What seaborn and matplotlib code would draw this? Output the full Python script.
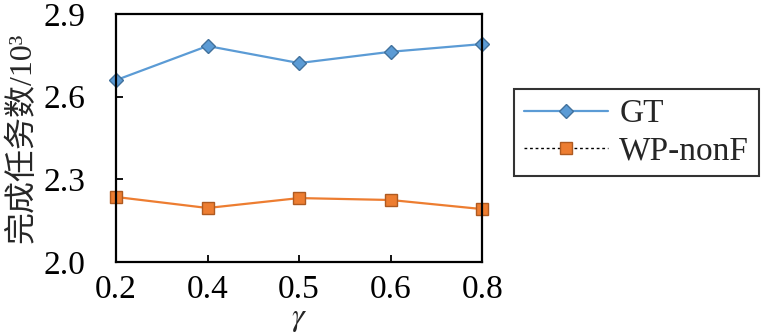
import matplotlib
matplotlib.use("Agg")
import matplotlib.pyplot as plt
from matplotlib.lines import Line2D
import seaborn as sns
import pandas as pd

gamma_labels = ["0.2", "0.4", "0.5", "0.6", "0.8"]
gt_values = [2.660, 2.784, 2.722, 2.763, 2.791]
wp_values = [2.236, 2.196, 2.232, 2.225, 2.192]
series_names = ["GT", "WP-nonF"]

blue = "#5B9BD5"
blue_edge = "#41719C"
orange = "#ED7D31"
orange_edge = "#AE5A21"

sns.set_theme(style="white")
plt.rcParams["font.family"] = ["Liberation Serif", "Noto Sans CJK SC"]
plt.rcParams["mathtext.fontset"] = "stix"

df = pd.DataFrame({
    "gamma": gamma_labels * 2,
    "value": gt_values + wp_values,
    "method": [series_names[0]] * len(gamma_labels) + [series_names[1]] * len(gamma_labels),
})

fig = plt.figure(figsize=(7.63, 3.34), dpi=100)
ax = fig.add_axes([0.152, 0.2156, 0.480, 0.7424])

sns.pointplot(
    data=df, x="gamma", y="value", hue="method", order=gamma_labels,
    hue_order=series_names, palette=[blue, orange], markers=["D", "s"],
    linestyles=["-", "-"], dodge=False, errorbar=None, ax=ax,
    markersize=7, linewidth=1.6, legend=False,
)

edges = {blue: blue_edge, orange: orange_edge}
for ln in ax.lines:
    c = matplotlib.colors.to_hex(ln.get_color()).upper()
    ln.set_markeredgecolor(edges.get(c, c))
    ln.set_markeredgewidth(1.0)
    ln.set_clip_on(False)
    if ln.get_marker() == "s":
        ln.set_markersize(8)

ax.set_xlim(0, 4)
ax.set_ylim(2.0, 2.9)
ax.set_yticks([2.0, 2.3, 2.6, 2.9])
ax.set_yticklabels(["2.0", "2.3", "2.6", "2.9"])
ax.set_xticks(range(len(gamma_labels)))
ax.set_xticklabels(gamma_labels)

for s in ax.spines.values():
    s.set_color("black")
    s.set_linewidth(1.6)

ax.tick_params(axis="both", direction="in", length=5, width=1.3, colors="black",
               labelsize=24, bottom=True, left=True, top=False, right=False)
ax.tick_params(axis="y", pad=22)
ax.tick_params(axis="x", pad=9)

ax.set_xlabel(r"$\gamma$", fontsize=23, labelpad=0)
ax.set_ylabel("完成任务数/10³", fontsize=23, labelpad=4)

handles = [
    Line2D([], [], color=blue, linestyle="-", linewidth=1.6, marker="D",
           markersize=7, markerfacecolor=blue, markeredgecolor=blue_edge),
    Line2D([], [], color="black", linestyle=(0, (2, 2)), linewidth=1.0, marker="s",
           markersize=8, markerfacecolor=orange, markeredgecolor=orange_edge),
]
leg = fig.legend(handles, series_names, loc="center left",
                 bbox_to_anchor=(0.674, 0.603), fontsize=24, frameon=True,
                 fancybox=False, edgecolor="black", handlelength=2.5,
                 handletextpad=0.35, borderpad=0.3, labelspacing=0.2,
                 borderaxespad=0)
leg.get_frame().set_linewidth(1.5)

fig.savefig("out.png", dpi=100)
